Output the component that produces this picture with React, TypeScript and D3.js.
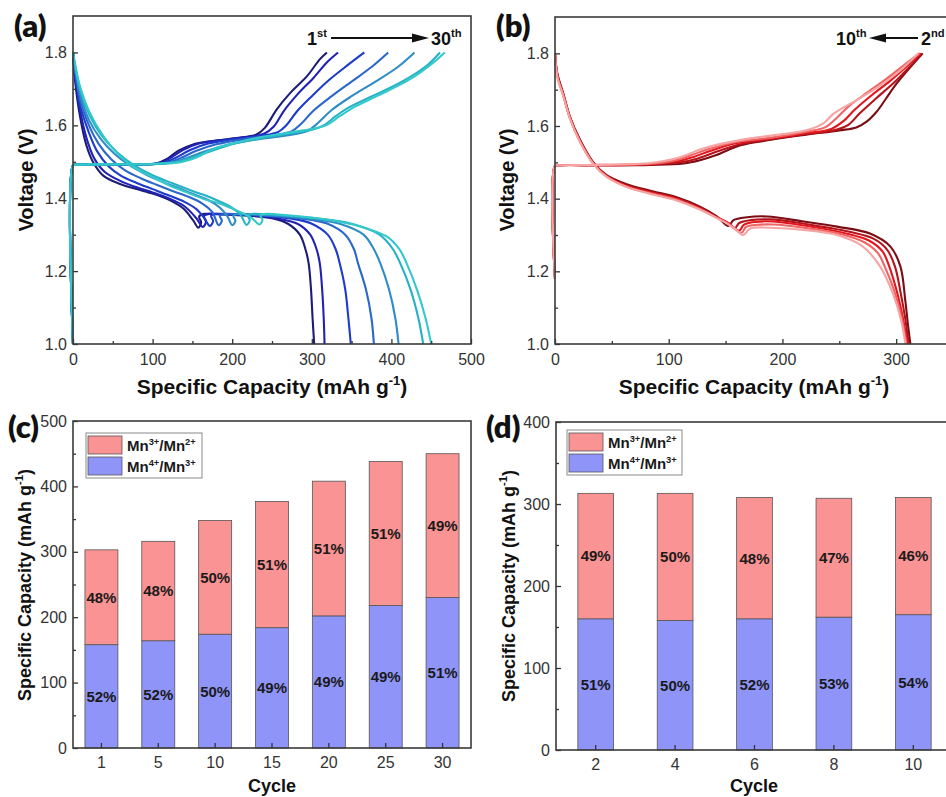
import React, { useEffect, useRef } from 'react';
import * as d3 from 'd3';

type Pt = [number, number];

// (a) galvanostatic curves, cycles 1 -> 30  [capacity mAh/g, voltage V]
const cyclesA = ['1', '5', '10', '15', '20', '25', '30'];
const coloursA = ['#1c1c78', '#2121b4', '#1d3bcc', '#2a68cc', '#2f8cc4', '#25b2c7', '#33c8ca'];

const a1Discharge: Pt[] = [[0, 1.8], [2.5, 1.725], [8.8, 1.625], [17, 1.544], [25.5, 1.498], [38, 1.462], [59, 1.439], [80, 1.425], [101, 1.412], [122, 1.394], [139, 1.371], [151, 1.339], [157.5, 1.319], [161, 1.333], [158.5, 1.35], [165, 1.357], [180, 1.356], [220, 1.352], [250, 1.345], [270, 1.33], [285, 1.3], [292, 1.26], [296, 1.222], [299, 1.15], [301, 1.07], [303, 1.0]];
const a5Discharge: Pt[] = [[0, 1.8], [2.5, 1.735], [9, 1.64], [17, 1.565], [27, 1.508], [40, 1.472], [60, 1.447], [80, 1.43], [100, 1.416], [120, 1.4], [140, 1.378], [155, 1.345], [163, 1.321], [167, 1.335], [164.5, 1.351], [171, 1.357], [190, 1.356], [230, 1.352], [260, 1.343], [282, 1.33], [298, 1.3], [306, 1.26], [310, 1.222], [313, 1.15], [315, 1.07], [316, 1.0]];
const a10Discharge: Pt[] = [[0, 1.8], [2.5, 1.745], [9, 1.655], [20, 1.58], [30, 1.53], [45, 1.487], [60, 1.462], [80, 1.442], [100, 1.425], [120, 1.408], [140, 1.39], [155, 1.37], [165, 1.345], [172, 1.324], [176, 1.337], [173.5, 1.352], [180, 1.357], [200, 1.356], [250, 1.35], [280, 1.342], [300, 1.33], [320, 1.3], [330, 1.26], [335, 1.222], [342, 1.15], [346, 1.07], [349, 1.0]];
const a15Discharge: Pt[] = [[0, 1.8], [2.5, 1.755], [9, 1.67], [20, 1.6], [32, 1.55], [48, 1.507], [65, 1.477], [85, 1.455], [105, 1.437], [125, 1.42], [145, 1.404], [162, 1.386], [175, 1.362], [183, 1.326], [187, 1.338], [184.5, 1.352], [191, 1.357], [210, 1.356], [260, 1.35], [300, 1.34], [320, 1.33], [342, 1.3], [353, 1.26], [358, 1.222], [368, 1.15], [375, 1.07], [378, 1.0]];
const a20Discharge: Pt[] = [[0, 1.8], [2.5, 1.76], [9, 1.685], [20, 1.615], [34, 1.565], [52, 1.522], [70, 1.492], [90, 1.467], [110, 1.447], [130, 1.43], [150, 1.412], [170, 1.395], [185, 1.373], [194, 1.35], [200, 1.326], [204, 1.338], [201.5, 1.352], [208, 1.357], [225, 1.356], [270, 1.35], [310, 1.34], [335, 1.33], [365, 1.3], [378, 1.26], [386, 1.222], [397, 1.15], [405, 1.07], [409, 1.0]];
const a25Discharge: Pt[] = [[0, 1.8], [2.5, 1.765], [9, 1.697], [21, 1.627], [36, 1.572], [55, 1.527], [75, 1.493], [100, 1.463], [125, 1.441], [150, 1.42], [175, 1.4], [195, 1.38], [210, 1.356], [218, 1.327], [222, 1.339], [219.5, 1.353], [226, 1.357], [240, 1.356], [300, 1.346], [350, 1.33], [385, 1.3], [402, 1.26], [411, 1.222], [424, 1.15], [434, 1.07], [440, 1.0]];
const a30Discharge: Pt[] = [[0, 1.8], [2.5, 1.77], [8.8, 1.707], [21, 1.635], [38, 1.571], [59, 1.516], [80, 1.48], [101, 1.457], [122, 1.434], [143, 1.416], [164, 1.398], [185, 1.385], [206, 1.366], [225, 1.345], [234, 1.328], [238, 1.34], [235.5, 1.353], [242, 1.357], [255, 1.356], [320, 1.341], [360, 1.323], [394, 1.295], [410, 1.26], [419, 1.222], [432, 1.15], [443, 1.07], [450, 1.0]];

const a1Charge: Pt[] = [[0, 1.0], [0, 1.49], [4, 1.492], [40, 1.492], [80, 1.493], [105, 1.496], [118, 1.508], [132, 1.53], [150, 1.547], [175, 1.557], [205, 1.565], [230, 1.574], [241, 1.593], [256, 1.644], [273, 1.689], [294, 1.735], [310, 1.781], [319, 1.8]];
const a5Charge: Pt[] = [[0, 1.0], [0, 1.49], [4, 1.492], [40, 1.492], [80, 1.493], [108, 1.496], [122, 1.51], [138, 1.532], [158, 1.55], [185, 1.559], [215, 1.567], [240, 1.577], [252, 1.596], [265, 1.64], [282, 1.685], [302, 1.73], [320, 1.775], [333, 1.8]];
const a10Charge: Pt[] = [[0, 1.0], [0, 1.49], [4, 1.492], [40, 1.492], [85, 1.493], [112, 1.496], [128, 1.51], [148, 1.533], [170, 1.55], [200, 1.561], [235, 1.571], [258, 1.582], [268, 1.6], [282, 1.64], [300, 1.68], [322, 1.725], [345, 1.765], [366, 1.8]];
const a15Charge: Pt[] = [[0, 1.0], [0, 1.49], [4, 1.492], [40, 1.492], [90, 1.493], [118, 1.497], [135, 1.51], [155, 1.53], [180, 1.548], [215, 1.562], [250, 1.572], [275, 1.584], [287, 1.605], [302, 1.64], [325, 1.68], [350, 1.72], [375, 1.76], [396, 1.8]];
const a20Charge: Pt[] = [[0, 1.0], [0, 1.49], [4, 1.492], [40, 1.492], [95, 1.493], [125, 1.498], [145, 1.512], [168, 1.53], [195, 1.547], [230, 1.561], [268, 1.572], [295, 1.585], [308, 1.607], [325, 1.642], [350, 1.68], [380, 1.72], [408, 1.76], [429, 1.8]];
const a25Charge: Pt[] = [[0, 1.0], [0, 1.49], [4, 1.492], [40, 1.493], [100, 1.494], [130, 1.499], [150, 1.512], [172, 1.528], [200, 1.548], [230, 1.562], [270, 1.577], [300, 1.588], [315, 1.6], [330, 1.625], [345, 1.647], [375, 1.679], [415, 1.722], [445, 1.765], [461, 1.8]];
const a30Charge: Pt[] = [[0, 1.0], [0, 1.49], [4, 1.492], [40, 1.493], [100, 1.494], [135, 1.499], [155, 1.512], [176, 1.535], [206, 1.553], [235, 1.567], [277, 1.582], [305, 1.592], [320, 1.602], [335, 1.625], [350, 1.646], [381.5, 1.68], [423, 1.726], [452.6, 1.772], [467, 1.8]];

const dischargeA = [a1Discharge, a5Discharge, a10Discharge, a15Discharge, a20Discharge, a25Discharge, a30Discharge];
const chargeA = [a1Charge, a5Charge, a10Charge, a15Charge, a20Charge, a25Charge, a30Charge];

// (b) cycles 2 -> 10
const cyclesB = ['2', '4', '6', '8', '10'];
const coloursB = ['#7b0d13', '#b3141c', '#e3161e', '#f06464', '#f6a4a4'];

const b2Discharge: Pt[] = [[0, 1.8], [2, 1.745], [7.3, 1.689], [13.2, 1.625], [22, 1.562], [33.7, 1.5], [45.4, 1.465], [63, 1.44], [84, 1.422], [107, 1.404], [127.5, 1.378], [142, 1.352], [152.5, 1.325], [157, 1.341], [169, 1.349], [186.5, 1.351], [219, 1.337], [248, 1.323], [277, 1.304], [295, 1.268], [303.8, 1.213], [308, 1.121], [310.5, 1.05], [312.5, 1.0]];
const b4Discharge: Pt[] = [[0, 1.8], [2, 1.742], [7.3, 1.687], [13.2, 1.623], [22, 1.56], [33.7, 1.498], [45.4, 1.463], [63, 1.437], [84, 1.419], [107, 1.401], [127.5, 1.375], [142, 1.35], [153, 1.332], [158, 1.318], [162, 1.333], [172, 1.341], [190, 1.343], [219, 1.331], [260, 1.308], [280, 1.29], [292, 1.26], [299, 1.213], [304, 1.14], [308, 1.07], [311, 1.0]];
const b6Discharge: Pt[] = [[0, 1.8], [2, 1.74], [7.3, 1.685], [13.2, 1.622], [22, 1.558], [33.7, 1.497], [45.4, 1.462], [63, 1.435], [84, 1.417], [107, 1.399], [127.5, 1.373], [142, 1.349], [153, 1.331], [162, 1.312], [166, 1.328], [176, 1.336], [192, 1.337], [219, 1.326], [255, 1.305], [276, 1.285], [288, 1.255], [294, 1.213], [301, 1.14], [306, 1.07], [310, 1.0]];
const b8Discharge: Pt[] = [[0, 1.8], [2, 1.738], [7.3, 1.684], [13.2, 1.621], [22, 1.557], [33.7, 1.496], [45.4, 1.461], [63, 1.433], [84, 1.415], [107, 1.397], [127.5, 1.371], [142, 1.348], [153, 1.33], [164, 1.306], [168, 1.322], [178, 1.328], [192, 1.329], [219, 1.32], [252, 1.302], [272, 1.28], [284, 1.25], [290, 1.213], [299, 1.14], [305, 1.07], [309, 1.0]];
const b10Discharge: Pt[] = [[0, 1.8], [2, 1.735], [7.3, 1.682], [13.2, 1.62], [22, 1.556], [33.7, 1.496], [45.4, 1.46], [63, 1.432], [84, 1.413], [107, 1.395], [127.5, 1.37], [142, 1.347], [152, 1.33], [159, 1.315], [165.7, 1.3], [171.6, 1.318], [189, 1.32], [219, 1.314], [248, 1.3], [270, 1.27], [286, 1.213], [297, 1.14], [304, 1.07], [308.2, 1.0]];

const b2Charge: Pt[] = [[0, 1.18], [0, 1.49], [4, 1.492], [40, 1.492], [84, 1.493], [113, 1.497], [127.5, 1.506], [142, 1.52], [163, 1.547], [190, 1.562], [221, 1.576], [250, 1.588], [265, 1.596], [274, 1.612], [283, 1.64], [291, 1.675], [300, 1.715], [312, 1.76], [323.4, 1.8]];
const b4Charge: Pt[] = [[0, 1.18], [0, 1.49], [4, 1.492], [40, 1.492], [84, 1.494], [110, 1.5], [125, 1.51], [140, 1.527], [163, 1.55], [190, 1.564], [221, 1.578], [248, 1.59], [258, 1.603], [268, 1.635], [282, 1.675], [297, 1.716], [310, 1.757], [322.5, 1.8]];
const b6Charge: Pt[] = [[0, 1.18], [0, 1.49], [4, 1.492], [40, 1.492], [84, 1.495], [108, 1.503], [122, 1.515], [137, 1.532], [160, 1.553], [190, 1.566], [221, 1.58], [243, 1.592], [253, 1.612], [264, 1.646], [279, 1.686], [295, 1.725], [309, 1.763], [321.5, 1.8]];
const b8Charge: Pt[] = [[0, 1.18], [0, 1.49], [4, 1.492], [40, 1.493], [84, 1.496], [106, 1.506], [120, 1.52], [134, 1.535], [157, 1.555], [190, 1.568], [221, 1.584], [238, 1.597], [247, 1.62], [259, 1.656], [275, 1.693], [292, 1.731], [307, 1.768], [320.5, 1.8]];
const b10Charge: Pt[] = [[0, 1.18], [0, 1.49], [4, 1.492], [40, 1.493], [84, 1.498], [105, 1.51], [117, 1.522], [127.5, 1.535], [142, 1.548], [171.5, 1.566], [221, 1.588], [236, 1.607], [245, 1.634], [265.3, 1.671], [285.8, 1.711], [303.4, 1.752], [319.6, 1.8]];

const dischargeB = [b2Discharge, b4Discharge, b6Discharge, b8Discharge, b10Discharge];
const chargeB = [b2Charge, b4Charge, b6Charge, b8Charge, b10Charge];

// (c) capacity split per cycle
const cyclesC = ['1', '5', '10', '15', '20', '25', '30'];
const mn43C = [158, 164, 174, 184, 202, 218, 230];
const mn32C = [145, 152, 174, 193, 206, 220, 220];
const mn43PctC = ['52%', '52%', '50%', '49%', '49%', '49%', '51%'];
const mn32PctC = ['48%', '48%', '50%', '51%', '51%', '51%', '49%'];

// (d)
const cyclesD = ['2', '4', '6', '8', '10'];
const mn43D = [160, 158, 160, 162, 165];
const mn32D = [153, 155, 148, 145, 143];
const mn43PctD = ['51%', '50%', '52%', '53%', '54%'];
const mn32PctD = ['49%', '50%', '48%', '47%', '46%'];

const FONT = "'Liberation Sans', Arial, Helvetica, sans-serif";
const INK = '#333';
const RED = '#fa9393';
const BLUE = '#8f95f8';

type Sel = d3.Selection<any, unknown, null, undefined>;

function rich(t: Sel, parts: Array<[string, boolean]>, size: number) {
  let up = false;
  parts.forEach(([s, sup]) => {
    const ts = t.append('tspan').text(s);
    if (sup) {
      ts.attr('font-size', size * 0.62);
      if (!up) { ts.attr('dy', -size * 0.42); up = true; }
    } else if (up) {
      ts.attr('dy', size * 0.42);
      up = false;
    }
  });
}

function styleAxis(g: Sel) {
  g.select('.domain').remove();
  g.selectAll('.tick line').attr('stroke', INK).attr('stroke-width', 1.3);
  g.selectAll('.tick text').attr('fill', INK).attr('font-size', 16).attr('font-family', FONT);
}

function frame(svg: Sel, l: number, t: number, r: number, b: number) {
  svg.append('rect').attr('x', l).attr('y', t).attr('width', r - l).attr('height', b - t)
    .attr('fill', 'none').attr('stroke', '#3a3a3a').attr('stroke-width', 1.6);
}

function tag(svg: Sel, s: string, x: number, y: number) {
  svg.append('text').attr('x', x).attr('y', y).text(s)
    .attr('font-family', "Lato, 'Open Sans', sans-serif").attr('font-weight', 800).attr('font-size', 31).attr('fill', '#111');
}

function yLabel(svg: Sel, parts: Array<[string, boolean]>, x: number, y: number, size: number) {
  const t = svg.append('text').attr('transform', `translate(${x},${y}) rotate(-90)`)
    .attr('text-anchor', 'middle').attr('font-family', FONT).attr('font-weight', 'bold').attr('font-size', size).attr('fill', '#111');
  rich(t, parts, size);
}

function xLabel(svg: Sel, parts: Array<[string, boolean]>, x: number, y: number, size: number) {
  const t = svg.append('text').attr('x', x).attr('y', y)
    .attr('text-anchor', 'middle').attr('font-family', FONT).attr('font-weight', 'bold').attr('font-size', size).attr('fill', '#111');
  rich(t, parts, size);
}

const capLabel: Array<[string, boolean]> = [['Specific Capacity (mAh g', false], ['-1', true], [')', false]];

function curvePanel(svg: Sel, o: { l: number; t: number; r: number; b: number; xMax: number; xTicks: number[]; xMinor: number[]; dis: Pt[][]; chg: Pt[][]; colours: string[] }) {
  const x = d3.scaleLinear().domain([0, o.xMax]).range([o.l, o.r]);
  const y = d3.scaleLinear().domain([1.0, 1.9]).range([o.b, o.t]);
  const line = d3.line<Pt>().x(d => x(d[0])).y(d => y(d[1])).curve(d3.curveCatmullRom.alpha(0.5));

  const lines = svg.append('g').attr('fill', 'none').attr('stroke-width', 2.1).attr('stroke-linejoin', 'round');
  o.colours.forEach((c, i) => {
    lines.append('path').attr('d', line(o.dis[i])).attr('stroke', c);
    lines.append('path').attr('d', line(o.chg[i])).attr('stroke', c);
  });

  const bx = svg.append('g').attr('transform', `translate(0,${o.b})`);
  bx.append('g').call(d3.axisBottom(x).tickValues(o.xMinor).tickSize(-3).tickFormat(() => '')).call(styleAxis);
  bx.append('g').call(d3.axisBottom(x).tickValues(o.xTicks).tickSize(-5).tickPadding(10).tickFormat(d3.format('d'))).call(styleAxis);
  const ly = svg.append('g').attr('transform', `translate(${o.l},0)`);
  ly.append('g').call(d3.axisLeft(y).tickValues([1.1, 1.3, 1.5, 1.7]).tickSize(-3).tickFormat(() => '')).call(styleAxis);
  ly.append('g').call(d3.axisLeft(y).tickValues([1.0, 1.2, 1.4, 1.6, 1.8]).tickSize(-5).tickPadding(6).tickFormat(d3.format('.1f'))).call(styleAxis);
  frame(svg, o.l, o.t, o.r, o.b);
}

function barPanel(svg: Sel, o: { l: number; t: number; r: number; b: number; yMax: number; cats: string[]; blue: number[]; red: number[]; bluePct: string[]; redPct: string[]; pad: number; legend: [number, number, number, number] }) {
  const x = d3.scaleBand<string>().domain(o.cats).range([o.l, o.r]).paddingInner(o.pad).paddingOuter(o.pad / 2);
  const y = d3.scaleLinear().domain([0, o.yMax]).range([o.b, o.t]);
  const g = svg.append('g');
  o.cats.forEach((c, i) => {
    const x0 = x(c) as number;
    const w = x.bandwidth();
    const tot = o.blue[i] + o.red[i];
    g.append('rect').attr('x', x0).attr('y', y(o.blue[i])).attr('width', w).attr('height', y(0) - y(o.blue[i]))
      .attr('fill', BLUE).attr('stroke', '#555').attr('stroke-width', 0.8);
    g.append('rect').attr('x', x0).attr('y', y(tot)).attr('width', w).attr('height', y(o.blue[i]) - y(tot))
      .attr('fill', RED).attr('stroke', '#555').attr('stroke-width', 0.8);
    const lab = (v: number, s: string) => g.append('text').attr('x', x0 + w / 2).attr('y', y(v)).attr('dy', '0.36em')
      .attr('text-anchor', 'middle').attr('font-family', FONT).attr('font-weight', 'bold').attr('font-size', 15).attr('fill', '#1a1a1a').text(s);
    lab(o.blue[i] / 2, o.bluePct[i]);
    lab(o.blue[i] + o.red[i] / 2, o.redPct[i]);
  });

  const bx = svg.append('g').attr('transform', `translate(0,${o.b})`);
  bx.call(d3.axisBottom(x).tickSize(-5).tickPadding(9)).call(styleAxis);
  const ly = svg.append('g').attr('transform', `translate(${o.l},0)`);
  ly.append('g').call(d3.axisLeft(y).tickValues(d3.range(50, o.yMax, 100)).tickSize(-3).tickFormat(() => '')).call(styleAxis);
  ly.append('g').call(d3.axisLeft(y).ticks(o.yMax / 100).tickSize(-5).tickPadding(6)).call(styleAxis);
  frame(svg, o.l, o.t, o.r, o.b);

  // legend
  const [lx, ly0, lw, lh] = o.legend;
  svg.append('rect').attr('x', lx).attr('y', ly0).attr('width', lw).attr('height', lh)
    .attr('fill', '#fff').attr('stroke', '#8a8a8a').attr('stroke-width', 1);
  const items: Array<[string, Array<[string, boolean]>]> = [
    [RED, [['Mn', false], ['3+', true], ['/Mn', false], ['2+', true]]],
    [BLUE, [['Mn', false], ['4+', true], ['/Mn', false], ['3+', true]]],
  ];
  items.forEach(([c, parts], i) => {
    const sy = ly0 + 3 + i * 21;
    svg.append('rect').attr('x', lx + 2).attr('y', sy).attr('width', 34).attr('height', 18)
      .attr('fill', c).attr('stroke', '#555').attr('stroke-width', 0.8);
    const t = svg.append('text').attr('x', lx + 41).attr('y', sy + 15)
      .attr('font-family', FONT).attr('font-weight', 'bold').attr('font-size', 15).attr('fill', '#1a1a1a');
    rich(t, parts, 15);
  });
}

function ordinal(svg: Sel, x: number, y: number, num: string, suf: string) {
  const t = svg.append('text').attr('x', x).attr('y', y)
    .attr('font-family', FONT).attr('font-weight', 'bold').attr('font-size', 18).attr('fill', '#111');
  rich(t, [[num, false], [suf, true]], 18);
}

export default function App() {
  const ref = useRef<SVGSVGElement>(null);

  useEffect(() => {
    const svg = d3.select(ref.current) as unknown as Sel;
    svg.selectAll('*').remove();

    // (a)
    curvePanel(svg, { l: 73, t: 16, r: 471, b: 344, xMax: 500, xTicks: [0, 100, 200, 300, 400, 500], xMinor: [50, 150, 250, 350, 450], dis: dischargeA, chg: chargeA, colours: coloursA });
    tag(svg, '(a)', 14, 37);
    yLabel(svg, [['Voltage (V)', false]], 33, 180, 20);
    xLabel(svg, capLabel, 272, 394, 21);
    ordinal(svg, 307, 45, '1', 'st');
    svg.append('line').attr('x1', 331).attr('x2', 414).attr('y1', 38).attr('y2', 38).attr('stroke', '#111').attr('stroke-width', 2);
    svg.append('path').attr('d', 'M412,33.5 L429,38 L412,42.5 Z').attr('fill', '#111');
    ordinal(svg, 431, 45, '30', 'th');

    // (b)
    curvePanel(svg, { l: 555, t: 17, r: 953, b: 344, xMax: 350, xTicks: [0, 100, 200, 300], xMinor: [50, 150, 250], dis: dischargeB, chg: chargeB, colours: coloursB });
    tag(svg, '(b)', 496, 37);
    yLabel(svg, [['Voltage (V)', false]], 514, 180, 20);
    xLabel(svg, capLabel, 754, 394, 21);
    ordinal(svg, 836, 45, '10', 'th');
    svg.append('line').attr('x1', 884).attr('x2', 918).attr('y1', 38).attr('y2', 38).attr('stroke', '#111').attr('stroke-width', 2);
    svg.append('path').attr('d', 'M886,33.5 L869,38 L886,42.5 Z').attr('fill', '#111');
    ordinal(svg, 921, 45, '2', 'nd');

    // (c)
    barPanel(svg, { l: 73, t: 421, r: 471, b: 748, yMax: 500, cats: cyclesC, blue: mn43C, red: mn32C, bluePct: mn43PctC, redPct: mn32PctC, pad: 0.42, legend: [86, 433, 116, 45] });
    tag(svg, '(c)', 8, 438);
    yLabel(svg, capLabel, 31, 585, 18);
    xLabel(svg, [['Cycle', false]], 272, 792, 18);

    // (d)
    barPanel(svg, { l: 556, t: 422, r: 953, b: 750, yMax: 400, cats: cyclesD, blue: mn43D, red: mn32D, bluePct: mn43PctD, redPct: mn32PctD, pad: 0.55, legend: [567, 430, 115, 45] });
    tag(svg, '(d)', 486, 438);
    yLabel(svg, capLabel, 515, 586, 18);
    xLabel(svg, [['Cycle', false]], 754, 792, 18);
  }, []);

  return (
    <svg ref={ref} width={946} height={797}
      style={{ position: 'absolute', left: 0, top: 0, background: '#fff', display: 'block' }} />
  );
}
